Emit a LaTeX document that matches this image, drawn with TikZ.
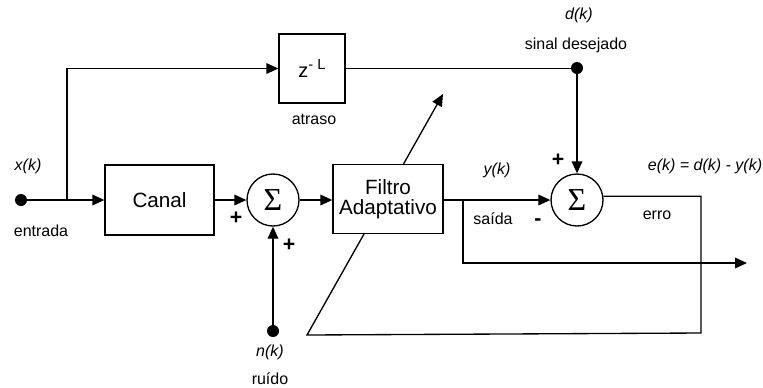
\documentclass[tikz,border=0pt]{standalone}
\usepackage{fontspec}
\setmainfont{Liberation Sans}
\newfontfamily\sigmafont{Liberation Serif}
\usetikzlibrary{arrows.meta, backgrounds}
\definecolor{LineBlack}{RGB}{0, 0, 0}
\definecolor{PaperWhite}{RGB}{255, 255, 255}
\tikzset{
  % Blocks (canal, filtro, atraso)
  block/.style={
    rectangle, draw=LineBlack, fill=PaperWhite, line width=1pt,
    inner sep=2pt, align=center,
    font=\fontsize{15.5}{15}\selectfont
  },
  % Summing junctions
  sumnode/.style={
    circle, draw=LineBlack, fill=PaperWhite, line width=1pt,
    minimum size=39pt, inner sep=0pt,
    font=\sigmafont\fontsize{24}{24}\selectfont
  },
  % Terminal dots
  dotnode/.style={
    circle, fill=LineBlack, minimum size=9pt, inner sep=0pt
  },
  % Plain and signal labels
  lbl/.style={font=\fontsize{12}{14}\selectfont, inner sep=1pt},
  siglbl/.style={font=\fontsize{12}{14}\selectfont\itshape, inner sep=1pt},
  % Signs at the summing junctions
  signlbl/.style={font=\fontsize{16}{16}\selectfont\bfseries, inner sep=0pt},
  % Lines
  sigline/.style={line width=1pt, draw=LineBlack},
  sigarrow/.style={sigline, -{Triangle[length=9pt, width=8pt]}}
}

\begin{document}
\begin{tikzpicture}[x=0.75pt, y=-0.75pt]

  \useasboundingbox (0,0) rectangle (763,387);

  % ── Blocks ────────────────────────────────────────────────────────────────
  \node[dotnode] (in) at (21,200) {};
  \node[block, minimum width=81.75pt, minimum height=52.5pt] (canal) at (159.5,200) {Canal};
  \node[sumnode] (sum1) at (273,200) {Σ};
  \node[block, minimum width=82.5pt, minimum height=51.75pt] (filtro) at (388,199)
        {Filtro\\Adaptativo};
  \node[block, minimum width=49.5pt, minimum height=51.75pt] (atraso) at (312,68.5)
        {\fontsize{15}{15}\selectfont z\raisebox{6pt}{\fontsize{11}{11}\selectfont- L}};
  \node[dotnode] (dsig) at (577,68) {};
  \node[sumnode] (sum2) at (577,200) {Σ};
  \node[dotnode] (ruido) at (273,331) {};

  % ── Helper points ─────────────────────────────────────────────────────────
  \coordinate (br) at (67,200);
  \coordinate (yb) at (463,200);
  \coordinate (yout) at (747,263);
  \coordinate (eright) at (701,333);
  \coordinate (eleft) at (307,335);
  \coordinate (adapt) at (443,94);

  % ── Edges ─────────────────────────────────────────────────────────────────
  \draw[sigarrow] (in) -- (canal.west);
  \draw[sigarrow] (br) |- (atraso.west);
  \draw[sigarrow] (canal.east) -- (sum1.west);
  \draw[sigarrow] (sum1.east) -- (sum1.east -| filtro.west);
  \draw[sigarrow] (ruido) -- (sum1.south);
  \draw[sigline]  (atraso.east) -- (atraso.east -| dsig);
  \draw[sigarrow] (dsig) -- (sum2.north);
  \draw[sigarrow] (filtro.east |- sum2.west) -- (sum2.west);
  \draw[sigarrow] (yb) |- (yout);

  % ── Error feedback through the filter ─────────────────────────────────────
  \begin{scope}[on background layer]
    \fill[PaperWhite] (0,0) rectangle (763,387);
    \draw[sigarrow] (sum2.8) -| (eright) -- (eleft) -- (adapt);
  \end{scope}

  % ── Labels ────────────────────────────────────────────────────────────────
  \node[siglbl] (lxk)     at (28,166)  {x(k)};
  \node[lbl]    (lin)     at (41,231)  {entrada};
  \node[lbl]    (latraso) at (314,119) {atraso};
  \node[signlbl] (pa)     at (236,218) {+};
  \node[signlbl] (pb)     at (289,245) {+};
  \node[siglbl] (lnk)     at (270,352) {n(k)};
  \node[lbl]    (lruido)  at (270,379) {ruído};
  \node[siglbl] (ldk)     at (579,15)  {d(k)};
  \node[lbl]    (ldes)    at (576,45)  {sinal desejado};
  \node[siglbl] (lyk)     at (497,170) {y(k)};
  \node[lbl]    (lsaida)  at (493,219) {saída};
  \node[signlbl] (mc)     at (538,222) {-};
  \node[signlbl] (pc)     at (558,160) {+};
  \node[siglbl] (lek)     at (705,166) {e(k) = d(k) - y(k)};
  \node[lbl]    (lerro)   at (657,215) {erro};

\end{tikzpicture}
\end{document}
